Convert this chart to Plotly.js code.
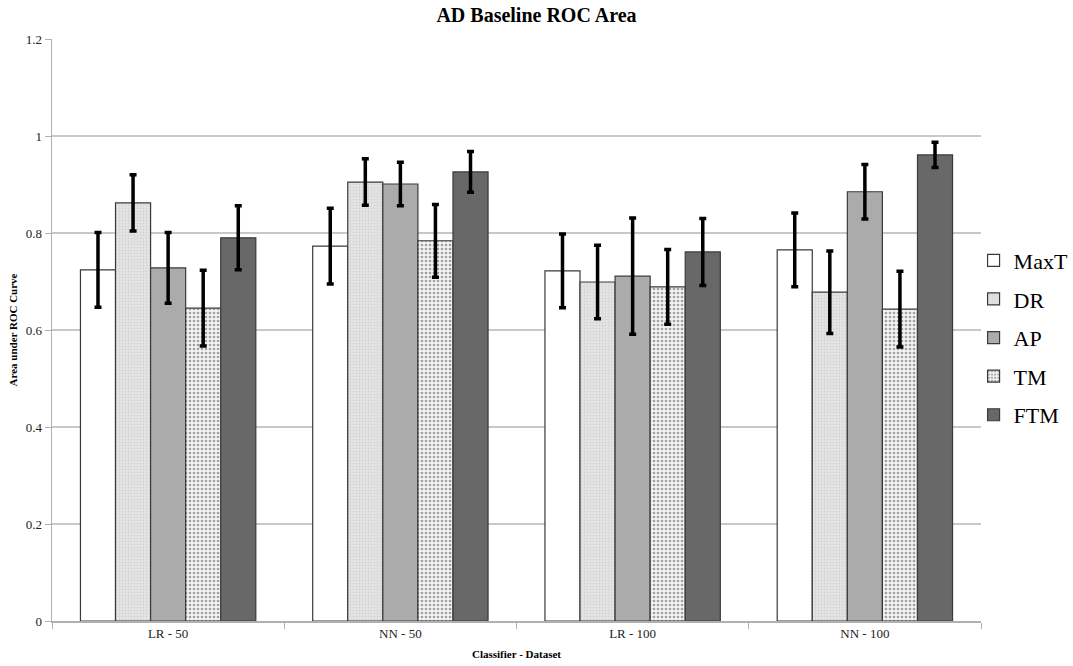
<!DOCTYPE html>
<html>
<head>
<meta charset="utf-8">
<script src="https://cdn.plot.ly/plotly-3.0.1.min.js"></script>
<style>html,body{margin:0;padding:0;background:#fff;}#chart{width:1073px;height:666px;}</style>
</head>
<body>
<div id="chart"></div>
<script>
const categories = ["LR - 50", "NN - 50", "LR - 100", "NN - 100"];
const seriesNames = ["MaxT", "DR", "AP", "TM", "FTM"];
const maxT = [0.724, 0.773, 0.722, 0.765];
const maxTErr = [0.077, 0.078, 0.076, 0.076];
const dr = [0.862, 0.905, 0.699, 0.678];
const drErr = [0.058, 0.048, 0.076, 0.085];
const ap = [0.728, 0.901, 0.711, 0.885];
const apErr = [0.073, 0.045, 0.120, 0.056];
const tm = [0.645, 0.784, 0.689, 0.643];
const tmErr = [0.078, 0.075, 0.077, 0.078];
const ftm = [0.790, 0.926, 0.761, 0.961];
const ftmErr = [0.066, 0.042, 0.069, 0.026];
const yTicks = [0, 0.2, 0.4, 0.6, 0.8, 1, 1.2];
const yTickText = ["0", "0.2", "0.4", "0.6", "0.8", "1", "1.2"];

const values = [maxT, dr, ap, tm, ftm];
const errs = [maxTErr, drErr, apErr, tmErr, ftmErr];
const styles = [
  {color: "#ffffff", pattern: {shape: ""}},
  {color: "#e2e2e2", pattern: {shape: ".", fgcolor: "#d2d2d2", bgcolor: "#e6e6e6", size: 3, solidity: 0.3}},
  {color: "#ababab", pattern: {shape: ""}},
  {color: "#f0f0f0", pattern: {shape: ".", fgcolor: "#a0a0a0", bgcolor: "#f4f4f4", size: 4, solidity: 0.35}},
  {color: "#686868", pattern: {shape: ""}}
];

const traces = seriesNames.map((name, i) => ({
  type: "bar",
  name: name,
  legendgroup: name,
  x: categories,
  y: values[i],
  marker: {
    color: styles[i].color,
    pattern: styles[i].pattern,
    line: {color: "#3a3a3a", width: 1.2}
  },
  error_y: {type: "data", array: errs[i], visible: true, color: "#000000", thickness: 3.5, width: 3.5}
}));

const serif = "Liberation Serif, Times New Roman, serif";
const layout = {
  width: 1073,
  height: 666,
  margin: {l: 52, r: 92, t: 39, b: 45, autoexpand: false},
  paper_bgcolor: "#ffffff",
  plot_bgcolor: "#ffffff",
  barmode: "group",
  bargap: 0.245,
  bargroupgap: 0,
  showlegend: true,
  title: {
    text: "<b>AD Baseline ROC Area</b>",
    font: {family: serif, size: 20, color: "#000000"},
    x: 0.5, xanchor: "center", y: 0.978, yanchor: "middle"
  },
  font: {family: serif, color: "#222222"},
  xaxis: {
    type: "category",
    tickson: "boundaries",
    ticks: "outside",
    ticklen: 6,
    tickcolor: "#b0b0b0",
    showline: true,
    linecolor: "#b0b0b0",
    linewidth: 1.5,
    showgrid: false,
    automargin: false,
    tickfont: {family: serif, size: 13, color: "#222222"},
    title: {text: "<b>Classifier - Dataset</b>", font: {family: serif, size: 11, color: "#000000"}, standoff: 10}
  },
  yaxis: {
    range: [0, 1.2],
    tickvals: yTicks,
    ticktext: yTickText,
    ticks: "outside",
    ticklen: 6,
    tickcolor: "#b0b0b0",
    showline: true,
    linecolor: "#b0b0b0",
    linewidth: 1.5,
    showgrid: true,
    gridcolor: "#c8c8c8",
    gridwidth: 1.5,
    zeroline: false,
    automargin: false,
    tickfont: {family: serif, size: 13, color: "#222222"},
    title: {text: "<b>Area under ROC Curve</b>", font: {family: serif, size: 11, color: "#000000"}, standoff: 6}
  },
  legend: {
    x: 0.992, xanchor: "left",
    y: 0.487, yanchor: "middle",
    font: {family: serif, size: 22, color: "#000000"},
    itemwidth: 30,
    tracegroupgap: 7,
    bgcolor: "rgba(0,0,0,0)"
  }
};

Plotly.newPlot("chart", traces, layout, {displayModeBar: false, staticPlot: true});
</script>
</body>
</html>
